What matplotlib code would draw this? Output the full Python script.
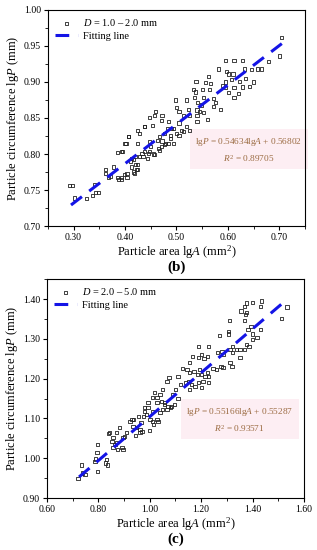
import matplotlib.pyplot as plt
import numpy as np
from matplotlib.ticker import MultipleLocator, FormatStrFormatter

plt.rcParams['font.family'] = ['Liberation Serif', 'DejaVu Serif']
plt.rcParams['mathtext.fontset'] = 'custom'
plt.rcParams['mathtext.rm'] = 'Liberation Serif'
plt.rcParams['mathtext.it'] = 'Liberation Serif:italic'

# panel (b): D = 1.0 - 2.0 mm
b_x = [0.705, 0.679, 0.700, 0.633, 0.658, 0.646, 0.623, 0.642, 0.629, 0.612,
       0.595, 0.612, 0.629, 0.581, 0.597, 0.602, 0.610, 0.608, 0.595, 0.595,
       0.602, 0.612, 0.566, 0.562, 0.557, 0.538, 0.564, 0.551, 0.537, 0.536,
       0.541, 0.553, 0.572, 0.576, 0.572, 0.534, 0.498, 0.519, 0.501, 0.505,
       0.524, 0.540, 0.545, 0.553, 0.540, 0.526, 0.514, 0.471, 0.459, 0.448,
       0.438, 0.453, 0.425, 0.406, 0.482, 0.495, 0.505, 0.520, 0.526, 0.514,
       0.476, 0.488, 0.488, 0.505, 0.292, 0.298, 0.301, 0.326, 0.336, 0.341,
       0.343, 0.349, 0.362, 0.362, 0.368, 0.372, 0.378, 0.385, 0.395, 0.400,
       0.393, 0.399, 0.404, 0.412, 0.416, 0.419, 0.422, 0.425, 0.429, 0.433,
       0.438, 0.446, 0.450, 0.457, 0.467, 0.471, 0.476, 0.484, 0.495, 0.444,
       0.412, 0.404, 0.385, 0.387, 0.393, 0.410, 0.420, 0.416, 0.425, 0.421,
       0.435, 0.448, 0.425, 0.402, 0.393, 0.406, 0.429, 0.438, 0.448, 0.463,
       0.479, 0.467, 0.458, 0.472, 0.485, 0.490, 0.500, 0.510, 0.456, 0.465,
       0.472, 0.560, 0.585, 0.590, 0.620, 0.635, 0.650, 0.665, 0.540, 0.548]
b_y = [0.962, 0.928, 0.936, 0.918, 0.918, 0.917, 0.901, 0.894, 0.893, 0.892,
       0.930, 0.930, 0.930, 0.918, 0.914, 0.911, 0.911, 0.903, 0.900, 0.892,
       0.885, 0.879, 0.898, 0.907, 0.899, 0.901, 0.889, 0.889, 0.886, 0.879,
       0.872, 0.879, 0.877, 0.871, 0.866, 0.889, 0.875, 0.875, 0.864, 0.859,
       0.862, 0.861, 0.859, 0.857, 0.854, 0.854, 0.854, 0.846, 0.859, 0.851,
       0.838, 0.839, 0.833, 0.824, 0.836, 0.836, 0.843, 0.838, 0.833, 0.831,
       0.829, 0.826, 0.822, 0.826, 0.756, 0.756, 0.739, 0.738, 0.743, 0.758,
       0.746, 0.746, 0.779, 0.773, 0.768, 0.769, 0.782, 0.802, 0.804, 0.814,
       0.768, 0.772, 0.768, 0.782, 0.792, 0.773, 0.779, 0.785, 0.796, 0.801,
       0.803, 0.801, 0.810, 0.799, 0.805, 0.810, 0.813, 0.815, 0.815, 0.794,
       0.794, 0.773, 0.768, 0.764, 0.764, 0.789, 0.785, 0.775, 0.778, 0.796,
       0.796, 0.803, 0.815, 0.815, 0.803, 0.824, 0.829, 0.838, 0.817, 0.819,
       0.815, 0.824, 0.853, 0.853, 0.845, 0.835, 0.828, 0.832, 0.800, 0.808,
       0.818, 0.848, 0.862, 0.895, 0.884, 0.905, 0.900, 0.918, 0.845, 0.868]

# panel (c): D = 2.0 - 5.0 mm
c_x = [1.534, 1.514, 1.398, 1.378, 1.370, 1.436, 1.432, 1.355, 1.378, 1.374,
       1.309, 1.305, 1.305, 1.270, 1.370, 1.394, 1.382, 1.432, 1.401, 1.417,
       1.401, 1.378, 1.386, 1.370, 1.351, 1.339, 1.312, 1.323, 1.351, 1.323,
       1.312, 1.320, 1.285, 1.277, 1.261, 1.246, 1.285, 1.281, 1.265, 1.230,
       1.226, 1.211, 1.191, 1.203, 1.188, 1.168, 1.156, 1.129, 1.110, 1.075,
       1.145, 1.156, 1.172, 1.184, 1.195, 1.203, 1.215, 1.223, 1.230, 1.149,
       1.164, 1.156, 1.176, 1.191, 1.207, 1.230, 1.203, 1.067, 1.051, 1.040,
       1.028, 1.020, 1.047, 1.059, 1.071, 1.009, 0.993, 0.981, 0.721, 0.736,
       0.748, 0.787, 0.795, 0.798, 0.798, 0.833, 0.837, 0.829, 0.845, 0.853,
       0.857, 0.865, 0.872, 0.876, 0.892, 0.884, 0.857, 0.896, 0.903, 0.896,
       0.923, 0.931, 0.935, 0.950, 0.962, 0.970, 0.962, 0.974, 0.989, 0.993,
       1.001, 1.009, 1.028, 1.032, 1.012, 1.040, 1.051, 1.067, 1.079, 1.098,
       1.086, 1.059, 1.028, 0.911, 0.872, 0.740, 0.790, 0.841, 0.946, 0.938,
       0.955, 0.966, 0.980, 1.090, 1.100, 1.110, 1.120, 1.140, 1.000, 1.015]
c_y = [1.380, 1.352, 1.392, 1.390, 1.382, 1.395, 1.382, 1.370, 1.367, 1.360,
       1.345, 1.319, 1.312, 1.309, 1.345, 1.332, 1.324, 1.324, 1.312, 1.304,
       1.299, 1.286, 1.281, 1.274, 1.274, 1.274, 1.274, 1.281, 1.254, 1.266,
       1.241, 1.231, 1.228, 1.231, 1.223, 1.226, 1.261, 1.269, 1.266, 1.281,
       1.256, 1.251, 1.281, 1.261, 1.254, 1.256, 1.241, 1.226, 1.206, 1.203,
       1.223, 1.216, 1.218, 1.211, 1.223, 1.211, 1.206, 1.216, 1.206, 1.193,
       1.185, 1.173, 1.180, 1.190, 1.193, 1.190, 1.178, 1.193, 1.173, 1.160,
       1.152, 1.165, 1.142, 1.140, 1.130, 1.152, 1.140, 1.127, 0.948, 0.983,
       0.958, 0.991, 1.014, 0.966, 1.034, 0.996, 0.983, 0.988, 1.064, 1.041,
       1.026, 1.034, 1.039, 1.021, 1.026, 1.077, 1.052, 1.052, 1.054, 1.021,
       1.092, 1.097, 1.080, 1.077, 1.072, 1.067, 1.064, 1.105, 1.110, 1.127,
       1.097, 1.092, 1.097, 1.092, 1.117, 1.115, 1.122, 1.122, 1.127, 1.135,
       1.130, 1.135, 1.140, 1.064, 1.064, 0.963, 0.998, 1.062, 1.057, 1.097,
       1.105, 1.090, 1.118, 1.160, 1.172, 1.150, 1.185, 1.190, 1.070, 1.085]

# fitted lines: slope, intercept, x range
b_fit = (0.54634, 0.56802, 0.295, 0.705)
c_fit = (0.55166, 0.55287, 0.725, 1.535)

fig = plt.figure(figsize=(3.17, 5.5), dpi=100)
ax1 = fig.add_axes([0.151, 0.589, 0.811, 0.393])
ax2 = fig.add_axes([0.148, 0.0945, 0.811, 0.398])

panels = [
    (ax1, b_x, b_y, b_fit, r'$\mathit{D}$ = 1.0 – 2.0 mm',
     r'lg$\mathit{P}$ = 0.54634lg$\mathit{A}$ + 0.56802', r'$\mathit{R}^2$ = 0.89705',
     (0.25, 0.75), (0.70, 1.00), 0.10, 0.05, '(b)', (0.782, 0.352)),
    (ax2, c_x, c_y, c_fit, r'$\mathit{D}$ = 2.0 – 5.0 mm',
     r'lg$\mathit{P}$ = 0.55166lg$\mathit{A}$ + 0.55287', r'$\mathit{R}^2$ = 0.93571',
     (0.60, 1.60), (0.90, 1.45), 0.20, 0.10, '(c)', (0.75, 0.356)),
]

for ax, xs, ys, fit, lab, eq, r2, xl, yl, xmaj, ymaj, tag, pos in panels:
    ax.scatter(xs, ys, marker='s', s=5, facecolors='none', edgecolors='#222222',
               linewidths=0.6, label=lab, zorder=3)
    k, b0, x0, x1 = fit
    fx = np.array([x0, x1])
    ax.plot(fx, k * fx + b0, color='#1414e6', lw=2.2, ls=(0, (4.5, 3)),
            label='Fitting line', zorder=4)
    ax.set_xlim(*xl)
    ax.set_ylim(*yl)
    ax.xaxis.set_major_locator(MultipleLocator(xmaj))
    ax.xaxis.set_minor_locator(MultipleLocator(xmaj / 2))
    ax.yaxis.set_major_locator(MultipleLocator(ymaj))
    ax.yaxis.set_minor_locator(MultipleLocator(ymaj / 2))
    ax.xaxis.set_major_formatter(FormatStrFormatter('%.2f'))
    ax.yaxis.set_major_formatter(FormatStrFormatter('%.2f'))
    ax.tick_params(which='major', direction='out', length=3, width=0.8,
                   labelsize=7, pad=2)
    ax.tick_params(which='minor', direction='out', length=2, width=0.6)
    for s in ax.spines.values():
        s.set_linewidth(0.8)
    ax.set_xlabel(r'Particle area lg$\mathit{A}$ (mm$^2$)', fontsize=9, labelpad=1)
    ax.set_ylabel(r'Particle circumference lg$\mathit{P}$ (mm)', fontsize=9, labelpad=2)
    ax.legend(loc='upper left', frameon=False, fontsize=7.5, handlelength=2.2,
              borderaxespad=0.3, labelspacing=0.3, handletextpad=0.5,
              markerscale=1.0)
    ax.text(pos[0], pos[1], eq + '\n' + r2, transform=ax.transAxes, fontsize=6.7,
            ha='center', va='center', color='#9a6a40', linespacing=1.5,
            bbox=dict(boxstyle='square,pad=0.6', facecolor='#fdeef3',
                      edgecolor='none'), zorder=2)
    ax.text(0.5, -0.19, tag, transform=ax.transAxes, fontsize=11,
            fontweight='bold', ha='center', va='center')

fig.savefig('out.png', dpi=100)
